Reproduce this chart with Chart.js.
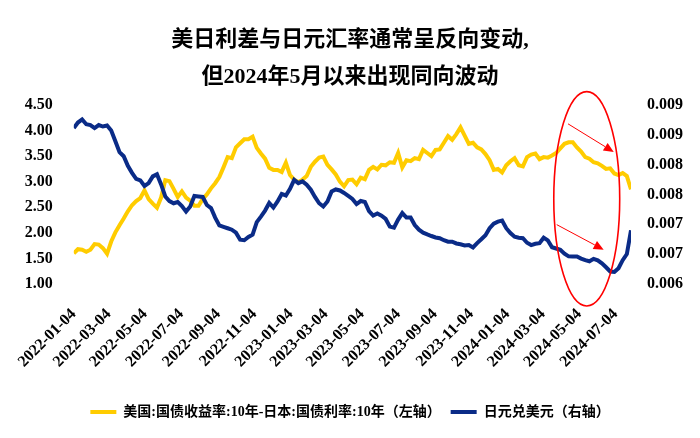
<!DOCTYPE html>
<html>
<head>
<meta charset="utf-8">
<script src="https://cdn.jsdelivr.net/npm/chart.js@4.4.1/dist/chart.umd.min.js"></script>
<style>
html,body{margin:0;padding:0;background:#fff;}
#wrap{width:700px;height:438px;}
</style>
</head>
<body>
<div id="wrap"><canvas id="c" width="700" height="438"></canvas></div>
<script>
// ---- text ----
const titleLines = ['美日利差与日元汇率通常呈反向变动,', '但2024年5月以来出现同向波动'];
const seriesNames = ['美国:国债收益率:10年-日本:国债利率:10年（左轴）', '日元兑美元（右轴）'];

// ---- categories (weekly observations starting at startDate) ----
const startDate = '2022-01-04';
const stepDays = 7;

// ---- series values ----
const spread = [
  1.60,1.68,1.67,1.63,1.67,1.78,1.77,1.70,1.59,1.83,
  2.01,2.15,2.28,2.42,2.54,2.62,2.68,2.83,2.66,2.57,
  2.49,2.69,3.03,3.01,2.86,2.70,2.81,2.69,2.63,2.53,
  2.53,2.66,2.75,2.87,2.97,3.09,3.28,3.48,3.46,3.67,
  3.75,3.83,3.83,3.88,3.66,3.55,3.45,3.27,3.23,3.23,
  3.19,3.37,3.13,3.04,2.99,3.04,3.11,3.29,3.39,3.47,
  3.49,3.33,3.24,3.14,3.00,2.91,3.03,3.04,2.95,3.08,
  3.05,3.23,3.29,3.24,3.33,3.32,3.38,3.37,3.56,3.28,
  3.42,3.40,3.46,3.44,3.62,3.56,3.50,3.62,3.63,3.76,
  3.89,3.82,3.93,4.06,3.90,3.74,3.76,3.67,3.63,3.54,
  3.42,3.23,3.25,3.18,3.32,3.40,3.46,3.32,3.30,3.48,
  3.53,3.55,3.44,3.48,3.47,3.51,3.56,3.65,3.74,3.77,
  3.77,3.67,3.59,3.48,3.45,3.38,3.36,3.31,3.25,3.26,
  3.16,3.13,3.17,3.11,2.85
];
const jpyusd = [
  0.008612,0.008705,0.008756,0.008676,0.008663,0.008612,0.008663,0.008638,0.008654,0.008570,
  0.008393,0.008208,0.008140,0.007980,0.007862,0.007761,0.007736,0.007643,0.007690,0.007803,
  0.007837,0.007669,0.007466,0.007390,0.007353,0.007374,0.007306,0.007213,0.007298,0.007475,
  0.007466,0.007458,0.007323,0.007272,0.007112,0.006981,0.006957,0.006934,0.006910,0.006860,
  0.006742,0.006733,0.006787,0.006826,0.007037,0.007129,0.007230,0.007357,0.007281,0.007382,
  0.007508,0.007483,0.007593,0.007744,0.007690,0.007719,0.007663,0.007579,0.007458,0.007353,
  0.007298,0.007382,0.007551,0.007584,0.007567,0.007525,0.007475,0.007424,0.007340,0.007390,
  0.007374,0.007222,0.007146,0.007180,0.007143,0.007090,0.006961,0.006944,0.007079,0.007188,
  0.007112,0.007112,0.006989,0.006910,0.006860,0.006831,0.006804,0.006780,0.006767,0.006733,
  0.006708,0.006708,0.006679,0.006666,0.006647,0.006652,0.006612,0.006686,0.006750,0.006817,
  0.006935,0.007011,0.007045,0.007062,0.006935,0.006854,0.006792,0.006775,0.006767,0.006691,
  0.006652,0.006674,0.006683,0.006775,0.006730,0.006615,0.006595,0.006573,0.006509,0.006463,
  0.006462,0.006460,0.006425,0.006399,0.006381,0.006421,0.006396,0.006346,0.006280,0.006209,
  0.006202,0.006265,0.006399,0.006501,0.006900
];

// ---- tick labels ----
const xTickDates = ['2022-01-04','2022-03-04','2022-05-04','2022-07-04','2022-09-04','2022-11-04',
  '2023-01-04','2023-03-04','2023-05-04','2023-07-04','2023-09-04','2023-11-04',
  '2024-01-04','2024-03-04','2024-05-04','2024-07-04'];
const leftTickValues = [1.00,1.50,2.00,2.50,3.00,3.50,4.00,4.50];
const rightTickValues = [0.0060,0.0065,0.0070,0.0075,0.0080,0.0085,0.0090];
const rightTickLabels = ['0.006','0.007','0.007','0.008','0.008','0.009','0.009'];

// ---- annotation (in data units) ----
const ellipseBox = {from:'2024-03-22', to:'2024-07-11', top:4.76, bottom:0.57};
const arrowSpecs = [
  {from:['2024-04-15',4.13], to:['2024-07-01',3.58]},
  {from:['2024-03-27',2.16], to:['2024-06-14',1.67]}
];

// ---- styles ----
const YELLOW = '#ffcc00';
const BLUE = '#0a2b87';
const RED = '#ff0000';
const SERIF = "'Liberation Serif','Times New Roman','Noto Sans CJK SC',serif";

const dayOf = s => (Date.parse(s) - Date.parse(startDate)) / 86400000;
const toPoints = arr => arr.map((v, i) => ({x: i * stepDays, y: v}));
const xMax = (spread.length - 1) * stepDays;

const annotationPlugin = {
  id: 'annot',
  afterDatasetsDraw(chart) {
    const {ctx, scales} = chart;
    const xs = scales.x, ys = scales.y;
    ctx.save();
    const x0 = xs.getPixelForValue(dayOf(ellipseBox.from));
    const x1 = xs.getPixelForValue(dayOf(ellipseBox.to));
    const y0 = ys.getPixelForValue(ellipseBox.top);
    const y1 = ys.getPixelForValue(ellipseBox.bottom);
    ctx.beginPath();
    ctx.ellipse((x0 + x1) / 2, (y0 + y1) / 2, Math.abs(x1 - x0) / 2, Math.abs(y1 - y0) / 2, 0, 0, Math.PI * 2);
    ctx.strokeStyle = RED;
    ctx.lineWidth = 1.6;
    ctx.stroke();
    arrowSpecs.forEach(a => {
      const ax = xs.getPixelForValue(dayOf(a.from[0])), ay = ys.getPixelForValue(a.from[1]);
      const bx = xs.getPixelForValue(dayOf(a.to[0])), by = ys.getPixelForValue(a.to[1]);
      const ang = Math.atan2(by - ay, bx - ax);
      const len = 10, hw = 4.5;
      const baseX = bx - len * Math.cos(ang), baseY = by - len * Math.sin(ang);
      ctx.beginPath();
      ctx.moveTo(ax, ay);
      ctx.lineTo(baseX, baseY);
      ctx.strokeStyle = RED;
      ctx.lineWidth = 1;
      ctx.stroke();
      ctx.beginPath();
      ctx.moveTo(bx, by);
      ctx.lineTo(baseX + hw * Math.sin(ang), baseY - hw * Math.cos(ang));
      ctx.lineTo(baseX - hw * Math.sin(ang), baseY + hw * Math.cos(ang));
      ctx.closePath();
      ctx.fillStyle = RED;
      ctx.fill();
    });
    ctx.restore();
  }
};

new Chart(document.getElementById('c'), {
  type: 'line',
  data: {
    datasets: [
      {label: seriesNames[0], data: toPoints(spread), yAxisID: 'y', borderColor: YELLOW, backgroundColor: YELLOW,
       borderWidth: 4, pointRadius: 0, tension: 0, order: 1},
      {label: seriesNames[1], data: toPoints(jpyusd), yAxisID: 'y1', borderColor: BLUE, backgroundColor: BLUE,
       borderWidth: 4, pointRadius: 0, tension: 0, order: 0}
    ]
  },
  options: {
    responsive: false,
    devicePixelRatio: 1,
    animation: false,
    layout: {padding: {left: 0, right: 0, top: 0, bottom: 9}},
    plugins: {
      tooltip: {enabled: false},
      title: {
        display: true, text: titleLines, color: '#000',
        font: {family: SERIF, size: 22, weight: 'bold', lineHeight: 1.68},
        padding: {top: 22, bottom: 9}
      },
      legend: {
        position: 'bottom',
        labels: {
          usePointStyle: true, pointStyle: 'line', pointStyleWidth: 26, padding: 10,
          color: '#000', font: {family: SERIF, size: 14, weight: 'bold'},
          sort: (a, b) => a.datasetIndex - b.datasetIndex
        }
      }
    },
    scales: {
      x: {
        type: 'linear', min: 0, max: xMax,
        afterBuildTicks: s => { s.ticks = xTickDates.map(d => ({value: dayOf(d)})); },
        afterFit: s => { s.height = 111; },
        grid: {display: false, drawTicks: false}, border: {display: false},
        ticks: {autoSkip: false, minRotation: 45, maxRotation: 45, padding: 21, color: '#000',
          font: {family: SERIF, size: 16, weight: 'bold'},
          callback: (v, i) => xTickDates[i]}
      },
      y: {
        position: 'left', min: 1, max: 4.5,
        afterBuildTicks: s => { s.ticks = leftTickValues.map(v => ({value: v})); },
        afterFit: s => { s.width = 70; },
        grid: {display: false, drawTicks: false}, border: {display: false},
        ticks: {padding: 21, color: '#000', font: {family: SERIF, size: 16, weight: 'bold'},
          callback: v => Number(v).toFixed(2)}
      },
      y1: {
        position: 'right', min: 0.006, max: 0.009,
        afterBuildTicks: s => { s.ticks = rightTickValues.map(v => ({value: v})); },
        afterFit: s => { s.width = 69; },
        grid: {display: false, drawTicks: false}, border: {display: false},
        ticks: {padding: 16, color: '#000', font: {family: SERIF, size: 16, weight: 'bold'},
          callback: (v, i) => rightTickLabels[i]}
      }
    }
  },
  plugins: [annotationPlugin]
});
</script>
</body>
</html>
